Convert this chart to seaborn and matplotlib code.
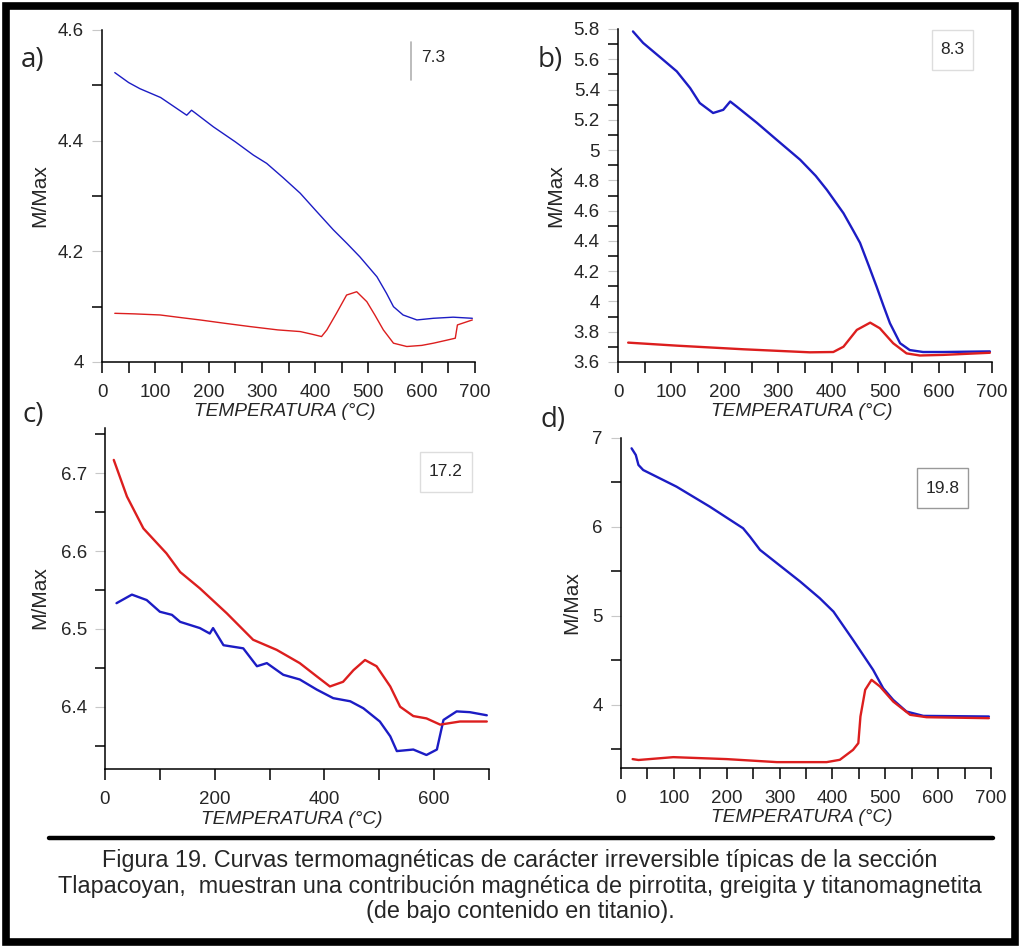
import matplotlib
matplotlib.use("Agg")
import matplotlib.pyplot as plt
import seaborn as sns
from matplotlib.patches import Rectangle
from matplotlib.lines import Line2D
from matplotlib.ticker import MultipleLocator

# ==========================================
# DATA
# ==========================================
# a) sample 7.3
a_heat_T = [24, 50, 71, 110, 159, 168, 175, 209, 250, 284, 309, 340, 372, 400, 434, 460, 484, 516, 534, 547, 565, 591, 622, 659, 695]
a_heat_M = [4.523, 4.505, 4.494, 4.478, 4.446, 4.455, 4.450, 4.425, 4.398, 4.374, 4.359, 4.333, 4.305, 4.275, 4.239, 4.214, 4.190, 4.154, 4.124, 4.100, 4.085, 4.076, 4.079, 4.081, 4.079]
a_cool_T = [24, 60, 109, 150, 184, 230, 278, 330, 372, 395, 412, 422, 440, 459, 478, 497, 512, 528, 547, 572, 600, 622, 645, 663, 667, 695]
a_cool_M = [4.088, 4.087, 4.085, 4.080, 4.076, 4.070, 4.064, 4.058, 4.055, 4.050, 4.046, 4.058, 4.088, 4.121, 4.127, 4.109, 4.085, 4.058, 4.034, 4.028, 4.030, 4.034, 4.039, 4.043, 4.067, 4.076]

# b) sample 8.3
b_heat_T = [28, 47, 80, 110, 135, 153, 178, 197, 210, 222, 260, 297, 341, 370, 391, 422, 440, 453, 470, 484, 497, 509, 528, 546, 571, 609, 650, 696]
b_heat_M = [5.784, 5.708, 5.610, 5.520, 5.410, 5.311, 5.245, 5.266, 5.321, 5.288, 5.180, 5.068, 4.936, 4.830, 4.737, 4.583, 4.470, 4.387, 4.230, 4.098, 3.970, 3.856, 3.724, 3.679, 3.666, 3.666, 3.668, 3.670]
b_cool_T = [19, 110, 235, 359, 403, 422, 447, 472, 490, 515, 540, 565, 609, 696]
b_cool_M = [3.728, 3.708, 3.684, 3.664, 3.666, 3.701, 3.812, 3.860, 3.823, 3.724, 3.657, 3.643, 3.647, 3.661]

# c) sample 17.2
c_heat_T = [21, 49, 76, 100, 122, 137, 173, 191, 197, 216, 252, 277, 295, 325, 355, 386, 416, 447, 471, 501, 520, 532, 562, 586, 605, 617, 641, 665, 696]
c_heat_M = [6.533, 6.544, 6.537, 6.522, 6.518, 6.509, 6.501, 6.494, 6.501, 6.479, 6.475, 6.452, 6.456, 6.441, 6.435, 6.422, 6.411, 6.407, 6.398, 6.381, 6.362, 6.343, 6.345, 6.338, 6.345, 6.383, 6.394, 6.393, 6.389]
c_cool_T = [16, 40, 70, 112, 137, 173, 222, 270, 313, 355, 386, 410, 434, 453, 474, 495, 520, 538, 562, 586, 611, 647, 696]
c_cool_M = [6.717, 6.670, 6.629, 6.597, 6.573, 6.552, 6.520, 6.486, 6.473, 6.456, 6.439, 6.426, 6.432, 6.447, 6.460, 6.452, 6.426, 6.400, 6.388, 6.385, 6.377, 6.381, 6.381]

# d) sample 19.8
d_heat_T = [20, 28, 33, 42, 105, 168, 231, 244, 263, 295, 339, 376, 402, 439, 477, 496, 515, 540, 572, 696]
d_heat_M = [6.884, 6.809, 6.697, 6.640, 6.453, 6.228, 5.985, 5.891, 5.742, 5.592, 5.386, 5.199, 5.048, 4.730, 4.393, 4.187, 4.056, 3.925, 3.876, 3.869]
d_cool_T = [22, 33, 99, 200, 295, 389, 414, 439, 449, 453, 462, 474, 490, 515, 547, 578, 696]
d_cool_M = [3.390, 3.380, 3.412, 3.390, 3.356, 3.356, 3.382, 3.494, 3.569, 3.869, 4.169, 4.281, 4.206, 4.037, 3.888, 3.861, 3.850]

panel_letters = ["a)", "b)", "c)", "d)"]
sample_ids = ["7.3", "8.3", "17.2", "19.8"]
caption = ("Figura 19. Curvas termomagnéticas de carácter irreversible típicas de la sección\n"
           "Tlapacoyan,  muestran una contribución magnética de pirrotita, greigita y titanomagnetita\n"
           "(de bajo contenido en titanio).")

# ==========================================
# FIGURE
# ==========================================
W, H = 1021, 948
sns.set_style("white")
plt.rcParams['font.family'] = ['Liberation Sans', 'DejaVu Sans']
fig = plt.figure(figsize=(W / 100, H / 100), dpi=100)

def fx(x):
    return x / W

def fy(y):
    return 1 - y / H

def make_ax(l, t, r, b):
    return fig.add_axes([fx(l), fy(b), fx(r) - fx(l), fy(t) - fy(b)])

BLUE = "#1c1cc4"
RED = "#dc1e1e"

# box = (left, top, right, bottom) in pixels; ylab / xlab = label centres in pixels
panels = [
    dict(box=(102, 30, 475, 362), heat=(a_heat_T, a_heat_M), cool=(a_cool_T, a_cool_M),
         ylim=(4.0, 4.6), ymaj=0.2, ymin=0.1, xmaj=100, xmin=50, lw=1.0,
         ylab=(40, 196), xlab=(285, 411)),
    dict(box=(618, 29, 992, 362), heat=(b_heat_T, b_heat_M), cool=(b_cool_T, b_cool_M),
         ylim=(3.6, 5.8), ymaj=0.2, ymin=0.1, xmaj=100, xmin=50, lw=1.7,
         ylab=(556, 196), xlab=(802, 411)),
    dict(box=(105, 428, 489, 769), heat=(c_heat_T, c_heat_M), cool=(c_cool_T, c_cool_M),
         ylim=(6.32, 6.758), ymaj=0.1, ymin=0.05, xmaj=200, xmin=100, lw=1.7,
         ylab=(40, 598), xlab=(292, 820)),
    dict(box=(621, 438, 991, 768), heat=(d_heat_T, d_heat_M), cool=(d_cool_T, d_cool_M),
         ylim=(3.29, 7.0), ymaj=1, ymin=0.5, xmaj=100, xmin=50, lw=1.7,
         ylab=(572, 603), xlab=(802, 817)),
]

for p in panels:
    ax = make_ax(*p["box"])
    l, t, r, b = p["box"]
    sns.lineplot(x=p["heat"][0], y=p["heat"][1], ax=ax, color=BLUE, lw=p["lw"],
                 sort=False, estimator=None)
    sns.lineplot(x=p["cool"][0], y=p["cool"][1], ax=ax, color=RED, lw=p["lw"],
                 sort=False, estimator=None)
    ax.set_xlim(0, 700)
    ax.set_ylim(*p["ylim"])
    sns.despine(ax=ax)
    for s in ["left", "bottom"]:
        ax.spines[s].set_linewidth(1.1)
        ax.spines[s].set_color("black")
    ax.xaxis.set_major_locator(MultipleLocator(p["xmaj"]))
    ax.xaxis.set_minor_locator(MultipleLocator(p["xmin"]))
    ax.yaxis.set_major_locator(MultipleLocator(p["ymaj"]))
    ax.yaxis.set_minor_locator(MultipleLocator(p["ymin"]))
    ax.tick_params(axis="x", which="both", direction="out", length=8, width=1.1,
                   color="black", labelsize=13.5, pad=8, bottom=True)
    ax.tick_params(axis="y", which="major", direction="out", length=7, width=0.8,
                   color="#c8c8c8", labelsize=13.5, pad=6, left=True)
    ax.tick_params(axis="y", which="minor", direction="out", length=7, width=1.1,
                   color="black", left=True)
    ax.yaxis.set_major_formatter(lambda v, pos: "{:g}".format(round(v, 3)))
    ax.set_xlabel("TEMPERATURA (°C)", fontsize=13.8, style="italic")
    ax.set_ylabel("M/Max", fontsize=15)
    ax.xaxis.set_label_coords((p["xlab"][0] - l) / (r - l), (b - p["xlab"][1]) / (b - t))
    ax.yaxis.set_label_coords((p["ylab"][0] - l) / (r - l), (b - p["ylab"][1]) / (b - t))
    ax.xaxis.label.set_va("center")
    ax.yaxis.label.set_va("center")
    ax.grid(False)

# panel letters
for (x, y), s in zip([(33, 60), (550, 60), (33, 415), (553, 420)], panel_letters):
    fig.text(fx(x), fy(y), s, fontsize=20, ha="center", va="center",
             family=["Open Sans", "DejaVu Sans"])

# sample boxes
fig.add_artist(Line2D([fx(411), fx(411)], [fy(42), fy(80)], color="#b0b0b0", lw=1.2))
fig.text(fx(433), fy(58), sample_ids[0], fontsize=12.5, ha="center", va="center")
for (l, t, r, b), s, ec in zip([(932, 30, 973, 70), (420, 452, 472, 492), (917, 468, 968, 508)],
                              sample_ids[1:], ["#dddddd", "#dddddd", "#999999"]):
    fig.add_artist(Rectangle((fx(l), fy(b)), fx(r) - fx(l), fy(t) - fy(b),
                             transform=fig.transFigure, fill=False, ec=ec, lw=1))
    fig.text(fx((l + r) / 2), fy((t + b) / 2), s, fontsize=12.5, ha="center", va="center")

# separator line and caption
fig.add_artist(Line2D([fx(49), fx(993)], [fy(838), fy(838)], color="black", lw=3.2))
fig.text(fx(520), fy(886), caption, fontsize=16.8, ha="center", va="center",
         linespacing=1.14, family=["Liberation Sans Narrow", "Liberation Sans", "DejaVu Sans"])

# outer frame
fig.add_artist(Rectangle((fx(6), fy(942)), fx(1009), fy(6) - fy(942),
                         transform=fig.transFigure, fill=False, ec="black", lw=5.5))

fig.savefig("out.png", dpi=100)
